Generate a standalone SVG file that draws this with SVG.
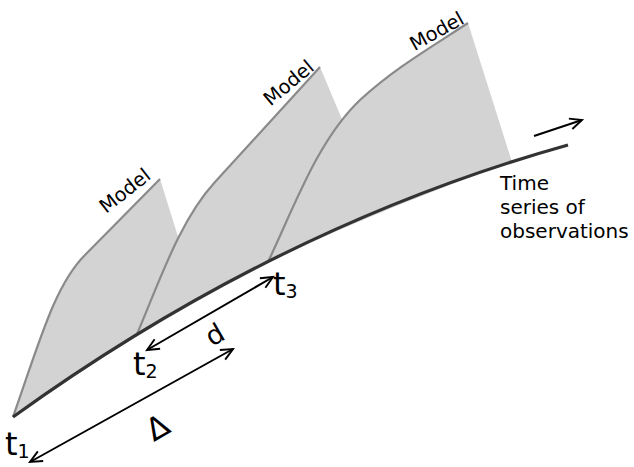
<svg xmlns="http://www.w3.org/2000/svg" width="634" height="467" viewBox="0 0 634 467">
<defs>
<marker id="ah" markerWidth="16" markerHeight="14" refX="13" refY="7" orient="auto-start-reverse" markerUnits="userSpaceOnUse">
<path d="M1,1.5 L13,7 L1,12.5" fill="none" stroke="#000" stroke-width="1.9"/>
</marker>
<style>
.fill{fill:#d3d3d3;stroke:none}
.edge{fill:none;stroke:#8a8a8a;stroke-width:2.2}
.obs{fill:none;stroke:#333;stroke-width:3.2}
.arr{fill:none;stroke:#000;stroke-width:2}
.lbl{font-family:"DejaVu Sans",sans-serif;fill:#000}
</style>
</defs>
<rect width="634" height="467" fill="#fff"/>
<g id="model1">
<path class="fill" d="M13,417 C40,340 55,285 85,255 L160,179 L190,275 L137,334 Q80,370 13,417 Z"/>
<path class="edge" d="M13,417 C40,340 55,285 85,255 L160,179"/>
<text class="lbl" font-size="19.5" text-anchor="middle" transform="translate(129,196) rotate(-38)">Model</text>
</g>
<g id="model2">
<path class="fill" d="M137,334 C160,280 180,220 215,182 L320,67 L355,150 L268,262 Q200,295 137,334 Z"/>
<path class="edge" d="M137,334 C160,280 180,220 215,182 L320,67"/>
<text class="lbl" font-size="19.5" text-anchor="middle" transform="translate(293,88) rotate(-40)">Model</text>
</g>
<g id="model3">
<path class="fill" d="M268,262 C295,205 318,140 360,100 C395,68 430,48 468,23 L512,162 Q390,205 268,262 Z"/>
<path class="edge" d="M268,262 C295,205 318,140 360,100 C395,68 430,48 468,23"/>
<text class="lbl" font-size="19.5" text-anchor="middle" transform="translate(440,37) rotate(-29)">Model</text>
</g>
<g id="observations">
<path class="obs" d="M13,417 Q278,226 568,145"/>
<text class="lbl" font-size="20" x="500" y="190">Time</text>
<text class="lbl" font-size="20" x="500" y="214">series of</text>
<text class="lbl" font-size="20" x="500" y="238">observations</text>
</g>
<g id="labels">
<text class="lbl" font-size="32" x="5" y="455">t<tspan font-size="19" dy="3">1</tspan></text>
<text class="lbl" font-size="32" x="133" y="375">t<tspan font-size="19" dy="3">2</tspan></text>
<text class="lbl" font-size="32" x="273" y="295">t<tspan font-size="19" dy="3">3</tspan></text>
<text class="lbl" font-size="27" text-anchor="middle" transform="translate(215,335) rotate(-30)" y="9">d</text>
<text class="lbl" font-size="31" text-anchor="middle" transform="translate(158,428) rotate(-30)" y="10">Δ</text>
</g>
<g id="connectors">
<line class="arr" x1="147" y1="350" x2="273" y2="277" marker-start="url(#ah)" marker-end="url(#ah)"/>
<line class="arr" x1="30" y1="462" x2="233" y2="349" marker-start="url(#ah)" marker-end="url(#ah)"/>
<line class="arr" x1="534" y1="136" x2="582" y2="120" marker-end="url(#ah)"/>
</g>
</svg>
